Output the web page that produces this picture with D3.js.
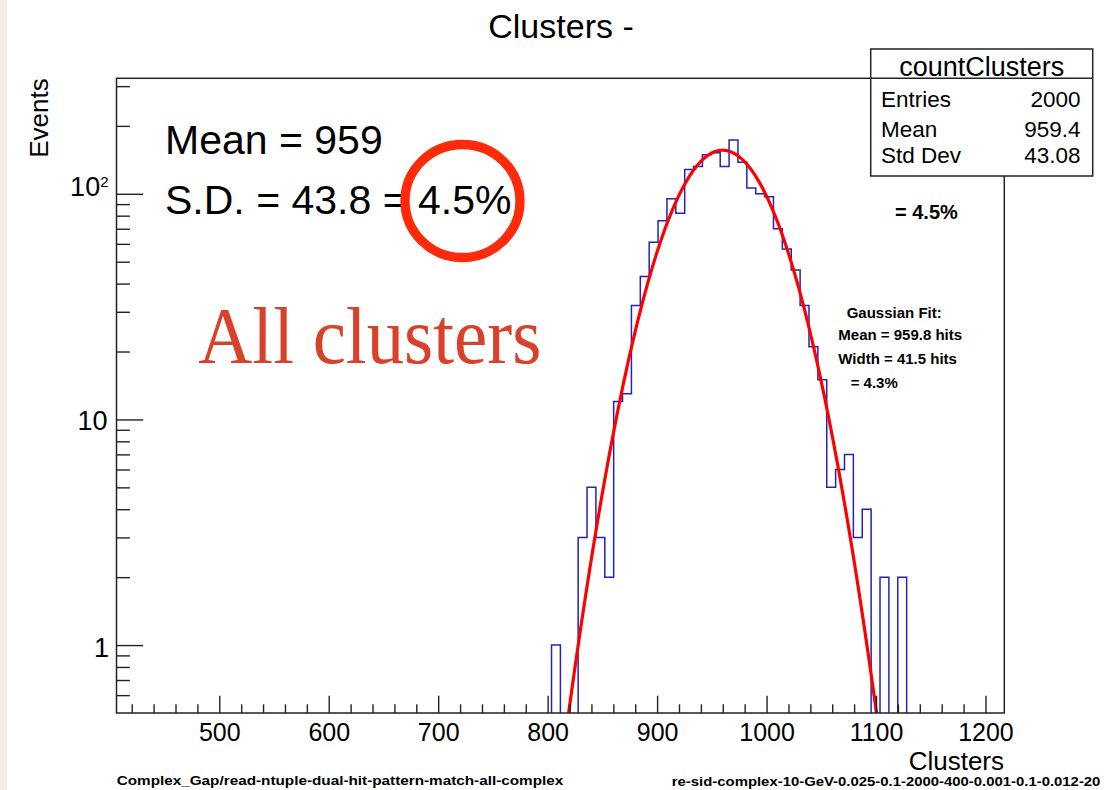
<!DOCTYPE html>
<html><head><meta charset="utf-8">
<script src="https://cdn.jsdelivr.net/npm/d3@7"></script>
<style>
html,body{margin:0;padding:0;background:#fff;}
svg{display:block;font-family:"Liberation Sans",Arial,Helvetica,sans-serif;}
</style>
</head><body>
<svg id="c" width="1113" height="790"></svg>
<script>
// ---------------- data ----------------
const histMin = 406.1, histMax = 1217.2;   // histogram range (100 bins)
const counts = [
  0,0,0,0,0,0,0,0,0,0, 0,0,0,0,0,0,0,0,0,0,
  0,0,0,0,0,0,0,0,0,0, 0,0,0,0,0,0,0,0,0,0,
  0,0,0,0,0,0,0,0,0,1, 0,0,3,5,3,2,12,13,32,43,
  61,76,95,82,128,132,149,152,132,173, 138,106,100,97,70,57,46,32,21,15,
  5,6,7,3,4,0,2,0,2,0, 0,0,0,0,0,0,0,0,0,0
];
const fitParams = {constant: 156, mean: 959.8, sigma: 41.5};
const xMajorTicks = [500, 600, 700, 800, 900, 1000, 1100, 1200];
const xTickLabels = ["500", "600", "700", "800", "900", "1000", "1100", "1200"];
const yMajorTicks = [1, 10, 100];
const yMinorTicks = [0.6,0.7,0.8,0.9, 2,3,4,5,6,7,8,9, 20,30,40,50,60,70,80,90, 200,300];
const statNames = ["Entries", "Mean", "Std Dev"];
const statValues = ["2000", "959.4", "43.08"];
const fitLines = ["Gaussian Fit:", "Mean = 959.8 hits", "Width = 41.5 hits", " = 4.3%"];
const annotLines = ["Mean = 959", "S.D. = 43.8 = 4.5%"];

// ---------------- layout ----------------
const svg = d3.select("#c");
const L = 116.5, R = 1004.3, T = 78.3, B = 713;
const x = d3.scaleLinear().domain([histMin, histMax]).range([L, R]);
const y = d3.scaleLog().domain([0.5, 325]).range([B, T]);

svg.append("rect").attr("x",0).attr("y",0).attr("width",1113).attr("height",790).attr("fill","#fff");
svg.append("rect").attr("x",0).attr("y",0).attr("width",7).attr("height",790).attr("fill","#f1ede8");

svg.append("defs").append("clipPath").attr("id","frameClip")
  .append("rect").attr("x",L).attr("y",T).attr("width",R-L).attr("height",B-T);

// histogram outline
const nb = counts.length, bw = (histMax - histMin) / nb;
const pts = [[x(histMin), B + 6]];
counts.forEach((c, i) => {
  const yv = c > 0 ? y(c) : B + 6;
  pts.push([x(histMin + i*bw), yv], [x(histMin + (i+1)*bw), yv]);
});
pts.push([x(histMax), B + 6]);
svg.append("path").attr("clip-path","url(#frameClip)")
  .attr("d", d3.line()(pts)).attr("fill","none")
  .attr("stroke","#2323b8").attr("stroke-width",1.5);

// gaussian fit
const g = v => fitParams.constant * Math.exp(-0.5*Math.pow((v - fitParams.mean)/fitParams.sigma, 2));
const fitPts = d3.range(790, 1130, 0.5).map(v => [x(v), y(Math.max(g(v), 1e-3))]);
svg.append("path").attr("clip-path","url(#frameClip)")
  .attr("d", d3.line()(fitPts)).attr("fill","none")
  .attr("stroke","#ff0000").attr("stroke-width",3.2);

// axes
const xMajor = svg.append("g").attr("transform",`translate(0,${B})`)
  .call(d3.axisBottom(x).tickValues(xMajorTicks).tickSizeInner(-17.3).tickSizeOuter(0)
        .tickFormat((d,i) => xTickLabels[i]).tickPadding(0));
xMajor.select(".domain").remove();
xMajor.selectAll("line").attr("stroke","#222").attr("stroke-width",1.4);
xMajor.selectAll("text").attr("y", 28).attr("dy", null)
  .attr("font-size", 25).attr("fill","#000")
  .attr("font-family",'"Liberation Sans",Arial,sans-serif');

const xMinor = svg.append("g").attr("transform",`translate(0,${B})`)
  .call(d3.axisBottom(x).tickValues(d3.range(420, 1217, 20).filter(v => v % 100 !== 0))
        .tickSizeInner(-8.7).tickSizeOuter(0).tickFormat(""));
xMinor.select(".domain").remove();
xMinor.selectAll("line").attr("stroke","#222").attr("stroke-width",1.4);

const yMajor = svg.append("g").attr("transform",`translate(${L},0)`)
  .call(d3.axisLeft(y).tickValues(yMajorTicks).tickSizeInner(-26.7).tickSizeOuter(0).tickFormat(""));
yMajor.select(".domain").remove();
yMajor.selectAll("line").attr("stroke","#222").attr("stroke-width",1.4);
const yMinor = svg.append("g").attr("transform",`translate(${L},0)`)
  .call(d3.axisLeft(y).tickValues(yMinorTicks).tickSizeInner(-13.4).tickSizeOuter(0).tickFormat(""));
yMinor.select(".domain").remove();
yMinor.selectAll("line").attr("stroke","#222").attr("stroke-width",1.4);

// y tick labels
svg.append("text").attr("x",109).attr("y",y(1)+11.5).attr("text-anchor","end")
  .attr("font-size",27).text("1");
svg.append("text").attr("x",107.5).attr("y",y(10)+10.5).attr("text-anchor","end")
  .attr("font-size",27).text("10");
const t100 = svg.append("text").attr("x",108.5).attr("y",y(100)+2.5).attr("text-anchor","end")
  .attr("font-size",27);
t100.append("tspan").text("10");
t100.append("tspan").attr("font-size",15).attr("dy",-9.5).text("2");

// frame
svg.append("rect").attr("x",L).attr("y",T).attr("width",R-L).attr("height",B-T)
  .attr("fill","none").attr("stroke","#222").attr("stroke-width",1.5);

// titles
svg.append("text").attr("x",561).attr("y",37.5).attr("text-anchor","middle")
  .attr("font-size",34).text("Clusters -");
svg.append("text").attr("x",1004).attr("y",770).attr("text-anchor","end")
  .attr("font-size",26).text("Clusters");
svg.append("text").attr("transform","translate(48.3,78.3) rotate(-90)").attr("text-anchor","end")
  .attr("font-size",26).text("Events");

// stat box
const sb = {x:870.7, y:49, w:222, h:127};
svg.append("rect").attr("x",sb.x).attr("y",sb.y).attr("width",sb.w).attr("height",sb.h)
  .attr("fill","#fff").attr("stroke","#222").attr("stroke-width",1.5);
svg.append("line").attr("x1",sb.x).attr("x2",sb.x+sb.w).attr("y1",T).attr("y2",T)
  .attr("stroke","#222").attr("stroke-width",1.5);
svg.append("text").attr("x",sb.x+sb.w/2).attr("y",76).attr("text-anchor","middle")
  .attr("font-size",27).text("countClusters");
const rowBase = [106.7, 137.3, 162.7];
statNames.forEach((n,i) => {
  svg.append("text").attr("x",881).attr("y",rowBase[i]).attr("font-size",22.5).text(n);
  svg.append("text").attr("x",1080.5).attr("y",rowBase[i]).attr("text-anchor","end")
    .attr("font-size",22.5).text(statValues[i]);
});

// annotations
svg.append("text").attr("x",165).attr("y",154).attr("font-size",41).text(annotLines[0]);
svg.append("text").attr("x",165).attr("y",214.3).attr("font-size",41).text(annotLines[1]);
svg.append("ellipse").attr("cx",462.5).attr("cy",201).attr("rx",57.5).attr("ry",56.5)
  .attr("fill","none").attr("stroke","#ff2a0a").attr("stroke-width",9.3);
svg.append("text").attr("x",198.3).attr("y",362.7)
  .attr("font-family",'"Liberation Serif","DejaVu Serif",serif')
  .attr("font-size",80).attr("fill","#d9412b")
  .attr("textLength",343).attr("lengthAdjust","spacingAndGlyphs").text("All clusters");

svg.append("text").attr("x",895).attr("y",218.5).attr("font-size",20).attr("font-weight","bold")
  .text("= 4.5%");
const fitX = [846.7, 838.3, 838.3, 846.5];
const fitY = [317.5, 339.5, 364, 388.3];
fitLines.forEach((t,i) => {
  svg.append("text").attr("x",fitX[i]).attr("y",fitY[i]).attr("font-size",15)
    .attr("font-weight","bold").attr("xml:space","preserve").style("white-space","pre").text(t);
});

// footers
svg.append("text").attr("x",116.7).attr("y",784.5).attr("font-size",13).attr("font-weight","bold")
  .attr("textLength",446.6).attr("lengthAdjust","spacingAndGlyphs")
  .text("Complex_Gap/read-ntuple-dual-hit-pattern-match-all-complex");
svg.append("text").attr("x",671.8).attr("y",785.5).attr("font-size",13).attr("font-weight","bold")
  .attr("textLength",428.6).attr("lengthAdjust","spacingAndGlyphs")
  .text("re-sid-complex-10-GeV-0.025-0.1-2000-400-0.001-0.1-0.012-20");
</script>
</body></html>
